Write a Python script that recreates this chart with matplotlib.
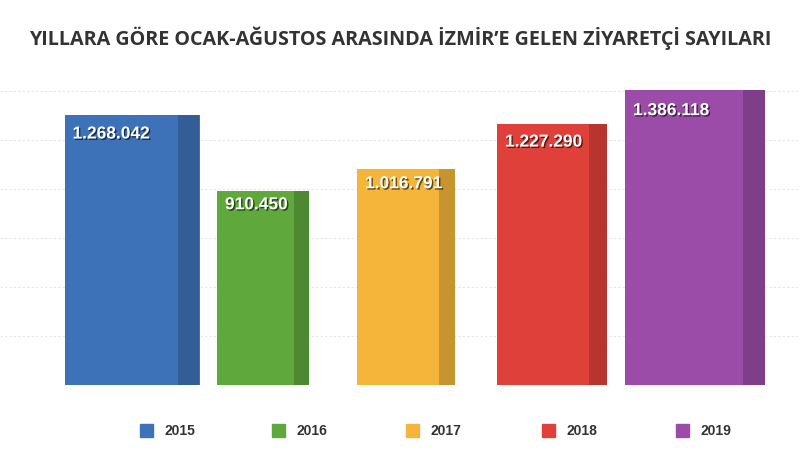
import matplotlib
matplotlib.use("Agg")
import matplotlib.pyplot as plt
import matplotlib.patheffects as pe

years = ["2015", "2016", "2017", "2018", "2019"]
visitors = [1268042, 910450, 1016791, 1227290, 1386118]
labels = ["1.268.042", "910.450", "1.016.791", "1.227.290", "1.386.118"]
colors = ["#3d72b8", "#5ea83c", "#f4b53a", "#e0403a", "#9b4ca8"]
title = "YILLARA GÖRE OCAK-AĞUSTOS ARASINDA İZMİR’E GELEN ZİYARETÇİ SAYILARI"

centers = [132, 263, 406, 552, 695]
widths = [135, 92, 98, 110, 140]

fig = plt.figure(figsize=(8, 4.57), dpi=100)
H = 457
ax = fig.add_axes([0, (H - 385) / H, 1, (385 - 75) / H])
ax.set_xlim(0, 800)
ax.set_ylim(0, 1386118 * 310 / 295)
ax.axis("off")
for gy in range(0, 1500000, 230000):
    ax.axhline(gy, color="#e6e6e6", lw=0.8, ls=(0, (2, 2)), zorder=0)

for c, w, v, col, lab in zip(centers, widths, visitors, colors, labels):
    ax.bar(c, v, width=w, color=col, edgecolor="none", zorder=2)
    ax.bar(c + w * 0.42, v, width=w * 0.16, color="black", alpha=0.18, zorder=3)
    ax.text(c - w / 2 + 8, v * 0.93, lab, color="white", fontsize=12.5, fontweight="bold",
            va="center", ha="left", zorder=4, family="Liberation Sans",
            path_effects=[pe.withSimplePatchShadow(offset=(1, -1), shadow_rgbFace="black", alpha=0.6)])

fig.text(0.5, 1 - 38 / H, title, ha="center", va="center", fontsize=14.2,
         fontweight="bold", color="#333333", family="Open Sans")

lx = [150, 282, 416, 552, 686]
for x, y, col in zip(lx, years, colors):
    fig.patches.append(plt.Rectangle((x / 800 - 0.012, 1 - 437 / H), 0.016, 0.028,
                                     transform=fig.transFigure, color=col))
    fig.text(x / 800 + 0.018, 1 - 431 / H, y, fontsize=10, fontweight="bold",
             color="#333333", va="center", family="Liberation Sans")

fig.savefig("out.png", dpi=100)
